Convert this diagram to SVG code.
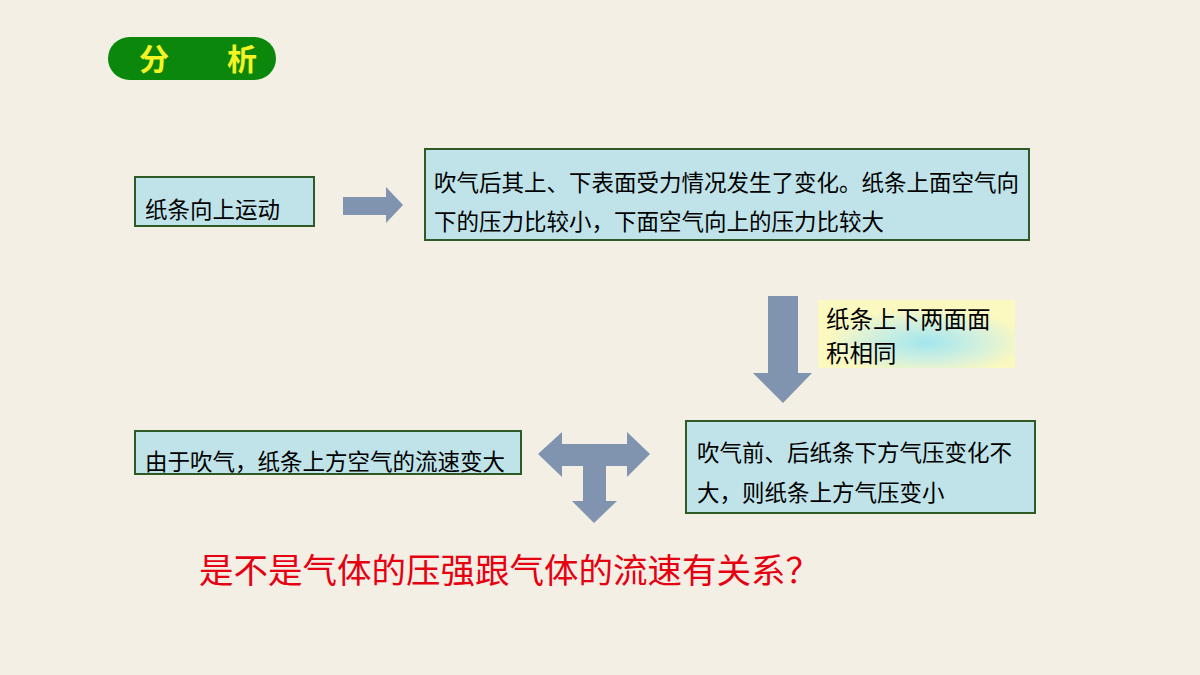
<svg xmlns="http://www.w3.org/2000/svg" width="1200" height="675" viewBox="0 0 1200 675">
<defs>
<style>
.box{fill:#bfe3e8;stroke:#2f5a26;stroke-width:2}
.t{font-family:"Noto Sans CJK SC","Noto Sans",sans-serif;font-size:22.5px;fill:#000}
.lt{font-size:23.5px}
.arr{fill:#8094b0}
</style>
<radialGradient id="glow" cx="0.55" cy="0.62" r="0.5">
<stop offset="0" stop-color="#a2e6ee"/>
<stop offset="0.55" stop-color="#d2f0de"/>
<stop offset="1" stop-color="#fbf8c0"/>
</radialGradient>
</defs>
<rect width="1200" height="675" fill="#f3efe5"/>
<g id="title">
<rect x="108" y="37" width="168" height="43" rx="21.5" fill="#0b870b"/>
<text x="154" y="70" font-family="Noto Sans CJK SC,sans-serif" font-size="30" font-weight="bold" fill="#f4f424" text-anchor="middle">分</text>
<text x="242" y="70" font-family="Noto Sans CJK SC,sans-serif" font-size="30" font-weight="bold" fill="#f4f424" text-anchor="middle">析</text>
</g>
<g id="node1">
<rect class="box" x="135" y="177" width="179" height="49"/>
<text class="t" x="145" y="218">纸条向上运动</text>
</g>
<g id="node2">
<rect class="box" x="425" y="149" width="604" height="91"/>
<text class="t" x="434" y="191">吹气后其上、下表面受力情况发生了变化。纸条上面空气向</text>
<text class="t" x="434" y="230">下的压力比较小，下面空气向上的压力比较大</text>
</g>
<g id="label">
<rect x="818" y="300" width="197" height="68" fill="url(#glow)"/>
<text class="t lt" x="826" y="328">纸条上下两面面</text>
<text class="t lt" x="826" y="362">积相同</text>
</g>
<g id="node4">
<rect class="box" x="686" y="421" width="349" height="92"/>
<text class="t" x="697" y="461">吹气前、后纸条下方气压变化不</text>
<text class="t" x="697" y="501">大，则纸条上方气压变小</text>
</g>
<g id="node3">
<rect class="box" x="135" y="431" width="386" height="43"/>
<text class="t" x="145" y="470">由于吹气，纸条上方空气的流速变大</text>
</g>
<g id="question">
<text x="199" y="583" font-family="Noto Sans CJK SC,sans-serif" font-size="34.5" fill="#e60012">是不是气体的压强跟气体的流速有关系？</text>
</g>
<g id="connectors">
<polygon class="arr" points="343,197 386,197 386,187 403,205 386,223 386,215 343,215"/>
<polygon class="arr" points="768,296 798,296 798,373 812,373 783,403 753,373 768,373"/>
<polygon class="arr" points="538,454 562,432 562,444 627,444 627,432 650,454 627,477 627,466 606,466 606,501 617,501 594,523 572,501 583,501 583,466 562,466 562,477"/>
</g>
</svg>
